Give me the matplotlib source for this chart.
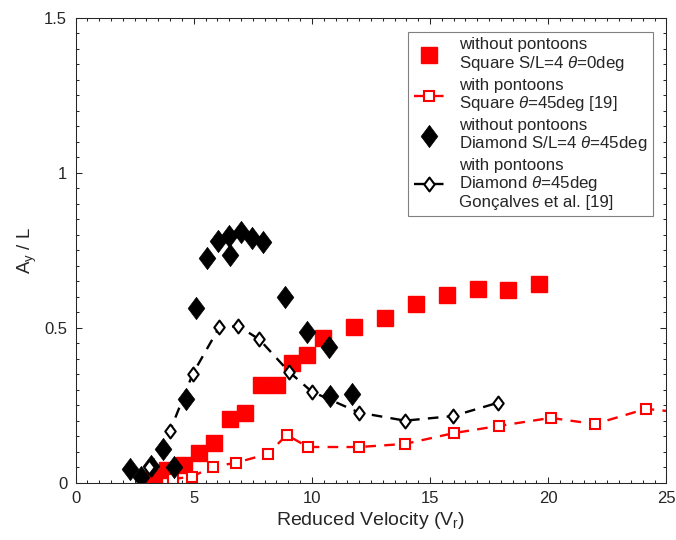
import matplotlib
matplotlib.use("Agg")
import matplotlib.pyplot as plt
from matplotlib.path import Path
from matplotlib.ticker import MultipleLocator

plt.rcParams['font.family'] = ['Liberation Sans', 'DejaVu Sans']
plt.rcParams['mathtext.fontset'] = 'custom'
plt.rcParams['mathtext.rm'] = 'Liberation Sans'
plt.rcParams['mathtext.it'] = 'Liberation Sans:italic'
plt.rcParams['mathtext.default'] = 'regular'

# Square, no pontoons (S/L=4, 0 deg)
sq_plain_vr = [3.32, 3.87, 4.59, 5.22, 5.86, 6.53, 7.17, 7.85, 8.52, 9.16,
               9.79, 10.47, 11.78, 13.09, 14.40, 15.71, 17.03, 18.30, 19.60]
sq_plain_ay = [0.019, 0.042, 0.058, 0.097, 0.129, 0.206, 0.226, 0.316, 0.316, 0.387,
               0.413, 0.468, 0.503, 0.532, 0.577, 0.606, 0.626, 0.623, 0.642]

# Square with pontoons (45 deg) [19]
sq_pont_vr = [4.11, 4.92, 5.82, 6.79, 8.14, 8.94, 9.83, 11.99, 13.94, 16.01,
              17.91, 20.11, 21.97, 24.13, 26.0]
sq_pont_ay = [0.013, 0.020, 0.053, 0.065, 0.094, 0.155, 0.116, 0.116, 0.126, 0.161,
              0.184, 0.210, 0.190, 0.239, 0.225]

# Diamond, no pontoons (S/L=4, 45 deg)
dm_plain_vr = [2.31, 2.76, 3.18, 3.69, 4.17, 4.67, 5.10, 5.55, 6.03, 6.49,
               6.54, 6.99, 7.45, 7.93, 8.86, 9.78, 10.72, 10.77, 11.68]
dm_plain_ay = [0.045, 0.020, 0.055, 0.110, 0.052, 0.271, 0.565, 0.727, 0.781, 0.797,
               0.735, 0.811, 0.790, 0.778, 0.600, 0.488, 0.439, 0.281, 0.287]

# Diamond with pontoons (45 deg), Goncalves et al. [19]
dm_pont_vr = [3.10, 4.00, 4.96, 6.08, 6.89, 7.78, 9.03, 9.99, 12.00, 13.94, 15.98, 17.88]
dm_pont_ay = [0.050, 0.168, 0.352, 0.502, 0.506, 0.463, 0.359, 0.295, 0.227, 0.201, 0.216, 0.259]

labels = [
    "without pontoons\nSquare S/L=4 $\\mathit{\\theta}$=0deg",
    "with pontoons\nSquare $\\mathit{\\theta}$=45deg [19]",
    "without pontoons\nDiamond S/L=4 $\\mathit{\\theta}$=45deg",
    "with pontoons\nDiamond $\\mathit{\\theta}$=45deg\nGon\u00e7alves et al. [19]",
]

# slightly tall diamond marker
diamond = Path([(0, 1), (0.75, 0), (0, -1), (-0.75, 0), (0, 1)],
               [Path.MOVETO, Path.LINETO, Path.LINETO, Path.LINETO, Path.CLOSEPOLY])

fig = plt.figure(figsize=(6.76, 5.40), dpi=100)
ax = fig.add_axes([0.1117, 0.1056, 0.8741, 0.8611])

ax.plot(sq_plain_vr, sq_plain_ay, linestyle='none', marker='s', markersize=11,
        color='#ff0000', markeredgecolor='#ff0000', label=labels[0])
ax.plot(sq_pont_vr, sq_pont_ay, linestyle=(0, (4.5, 3.5)), linewidth=1.7, color='#ff0000',
        marker='s', markersize=7.5, markerfacecolor='white', markeredgecolor='#ff0000',
        markeredgewidth=1.5, label=labels[1])
ax.plot(dm_plain_vr, dm_plain_ay, linestyle='none', marker=diamond, markersize=16,
        color='black', markeredgewidth=0.5, label=labels[2])
ax.plot(dm_pont_vr, dm_pont_ay, linestyle=(0, (4.5, 3.5)), linewidth=1.7, color='black',
        marker=diamond, markersize=10, markerfacecolor='white', markeredgecolor='black',
        markeredgewidth=1.5, label=labels[3])

ax.set_xlim(0, 25)
ax.set_ylim(0, 1.5)
ax.xaxis.set_major_locator(MultipleLocator(5))
ax.xaxis.set_minor_locator(MultipleLocator(0.5))
ax.yaxis.set_major_locator(MultipleLocator(0.5))
ax.yaxis.set_minor_locator(MultipleLocator(0.05))
ax.xaxis.set_major_formatter(plt.FuncFormatter(lambda v, p: f"{v:g}"))
ax.yaxis.set_major_formatter(plt.FuncFormatter(lambda v, p: f"{v:g}"))

ax.tick_params(which='both', direction='in', top=True, right=True,
               labelsize=12, labelcolor='#262626', color='#262626', width=0.75)
ax.tick_params(which='major', length=4, pad=6)
ax.tick_params(which='minor', length=2.5)
for s in ax.spines.values():
    s.set_color('#262626')
    s.set_linewidth(0.75)

ax.set_xlabel("Reduced Velocity (V$_r$)", fontsize=14, color='#262626', labelpad=3)
ax.set_ylabel("A$_y$ / L", fontsize=13.5, color='#262626', labelpad=4)

leg = ax.legend(loc='upper right', fontsize=12.2, frameon=True, fancybox=False,
                edgecolor='#808080', framealpha=1, borderaxespad=0.8,
                handlelength=1.8, handletextpad=0.85, labelspacing=0.25,
                borderpad=0.35)
leg.get_frame().set_linewidth(0.8)
for t in leg.get_texts():
    t.set_color('#262626')
    t.set_linespacing(1.13)

fig.savefig("out.png", dpi=100)
